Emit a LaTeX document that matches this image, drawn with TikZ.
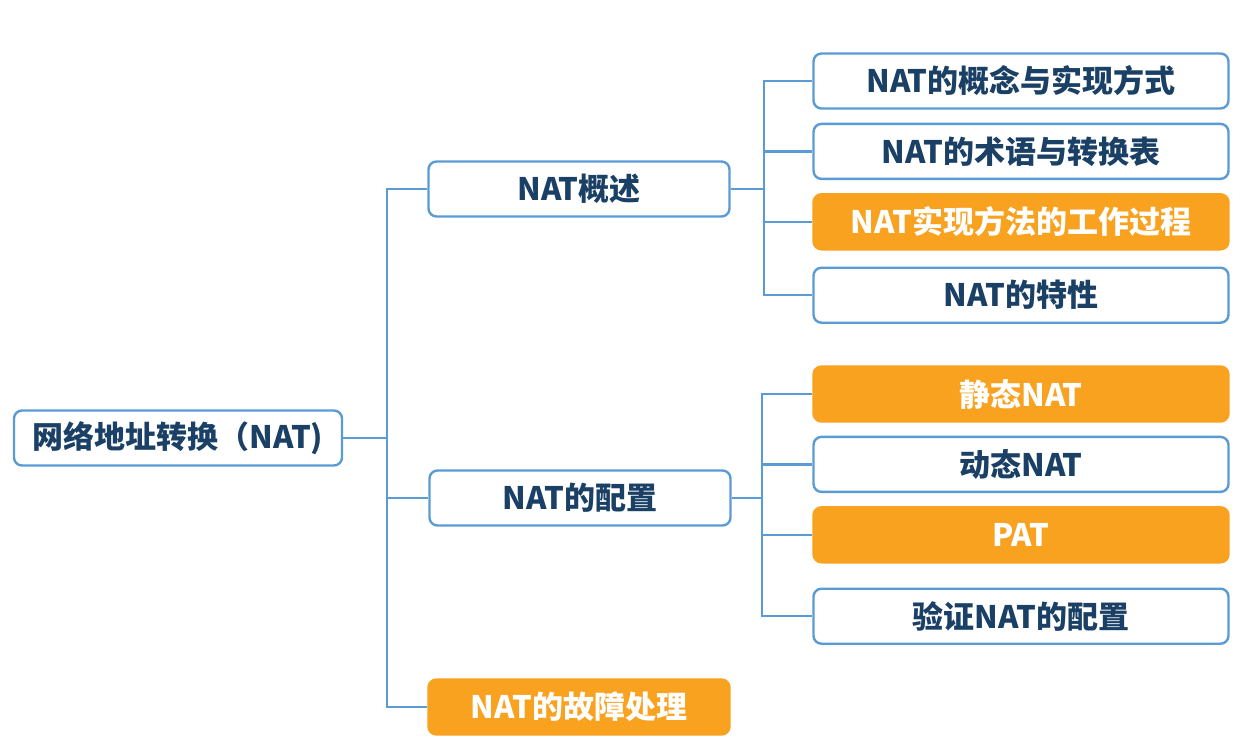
\documentclass[tikz,border=0pt]{standalone}
\usepackage{fontspec}
\setmainfont{Noto Sans CJK SC}
\usepackage{tikz}
\usetikzlibrary{positioning}
\usepackage{xcolor}

\definecolor{natblue}{HTML}{5B9BD5}
\definecolor{natnavy}{HTML}{1B4066}
\definecolor{natorange}{HTML}{F8A21F}

\begin{document}
\begin{tikzpicture}[
        x=1pt, y=-1pt,
        topic/.style={
            draw=natblue,
            fill=white,
            rounded corners=8pt,
            line width=2.4pt,
            minimum height=55pt,
            inner sep=0pt,
            text=natnavy,
            font=\fontsize{31}{36}\selectfont\bfseries
        },
        roottopic/.style={topic, minimum width=328pt},
        midtopic/.style={topic, minimum width=301pt},
        leaftopic/.style={topic, minimum width=415pt},
        hot/.style={draw=natorange, fill=natorange, text=white},
        conn/.style={line width=2.2pt, natblue}
    ]
        \useasboundingbox (0,0) rectangle (1254,744);

        % Root
        \node[roottopic] (root) at (178,438) {网络地址转换（NAT)};

        % Second level
        \node[midtopic] (ovw) at (579,189) {NAT概述};
        \node[midtopic] (cfg) at (580,498) {NAT的配置};
        \node[midtopic, hot] (fix) at (579,707) {NAT的故障处理};

        % Leaves of the overview
        \node[leaftopic] (concept) at (1021,81) {NAT的概念与实现方式};
        \node[leaftopic, below=13pt of concept] (terms) {NAT的术语与转换表};
        \node[leaftopic, hot, below=13pt of terms] (proc) {NAT实现方法的工作过程};
        \node[leaftopic, below=16pt of proc] (feat) {NAT的特性};

        % Leaves of the configuration
        \node[leaftopic, hot] (static) at (1021,394) {静态NAT};
        \node[leaftopic, below=13pt of static] (dyn) {动态NAT};
        \node[leaftopic, hot, below=13pt of dyn] (pat) {PAT};
        \node[leaftopic, below=24pt of pat] (verify) {验证NAT的配置};

        % Connectors
        \foreach \child in {ovw,cfg,fix}
            \draw[conn] (root.east) -- ++(44,0) |- (\child.west);
        \foreach \child in {concept,terms,proc,feat}
            \draw[conn] (ovw.east) -- ++(33,0) |- (\child.west);
        \foreach \child in {static,dyn,pat,verify}
            \draw[conn] (cfg.east) -- ++(30,0) |- (\child.west);
    \end{tikzpicture}
\end{document}
